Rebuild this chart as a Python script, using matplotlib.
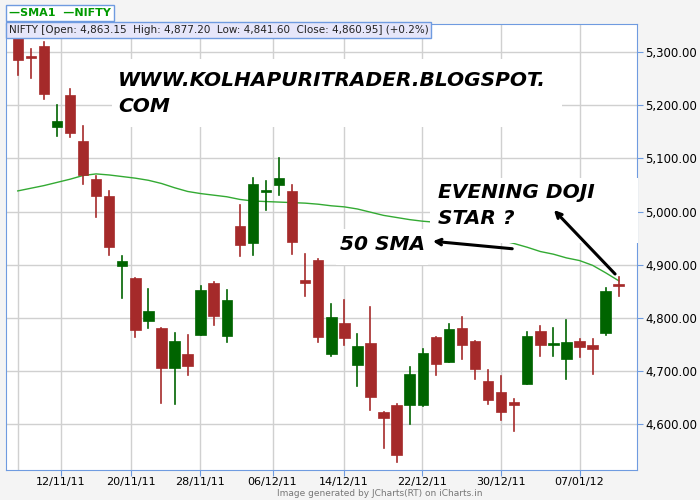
import matplotlib.pyplot as plt
from matplotlib.patches import Rectangle

# NIFTY daily candles, 47 sessions
opens = [5326, 5292, 5311, 5159, 5219, 5133, 5061, 5029, 4898, 4875,
         4794, 4781, 4706, 4732, 4768, 4866, 4766, 4973, 4941, 5037,
         5050, 5039, 4871, 4909, 4732, 4791, 4712, 4753, 4623, 4636,
         4636, 4636, 4764, 4717, 4781, 4757, 4682, 4661, 4642, 4676,
         4776, 4749, 4723, 4757, 4749, 4772, 4863.15]
highs = [5340, 5306, 5319, 5200, 5230, 5161, 5067, 5039, 4917, 4875,
         4855, 4781, 4772, 4768, 4860, 4868, 4853, 5012, 5063, 5058,
         5101, 5050, 4920, 4911, 4826, 4834, 4770, 4821, 4623, 4638,
         4708, 4742, 4764, 4789, 4802, 4757, 4702, 4691, 4648, 4774,
         4785, 4781, 4796, 4761, 4761, 4856, 4877.20]
lows = [5257, 5251, 5212, 5142, 5140, 5052, 4990, 4918, 4838, 4764,
        4781, 4640, 4638, 4693, 4768, 4787, 4755, 4917, 4918, 5003,
        5031, 4920, 4841, 4755, 4729, 4749, 4672, 4627, 4556, 4529,
        4601, 4635, 4693, 4717, 4723, 4685, 4638, 4608, 4588, 4676,
        4729, 4729, 4685, 4727, 4695, 4768, 4841.60]
closes = [5285, 5289, 5221, 5170, 5148, 5069, 5029, 4933, 4907, 4777,
          4813, 4706, 4757, 4710, 4853, 4804, 4834, 4937, 5052, 5041,
          5063, 4943, 4866, 4764, 4802, 4762, 4747, 4652, 4612, 4542,
          4695, 4734, 4714, 4779, 4749, 4704, 4646, 4623, 4636, 4766,
          4749, 4753, 4755, 4746, 4742, 4851, 4860.95]
sma = [5039, 5044, 5049, 5055, 5061, 5068, 5071, 5069, 5066, 5063,
       5059, 5053, 5045, 5038, 5034, 5031, 5028, 5023, 5020, 5019,
       5018, 5017, 5016, 5014, 5011, 5009, 5005, 4999, 4993, 4989,
       4985, 4982, 4980, 4978, 4975, 4968, 4958, 4946, 4940, 4933,
       4925, 4920, 4913, 4908, 4899, 4885, 4870]
tick_pos = [3.3, 8.66, 13.95, 19.5, 24.98, 30.96, 37.0, 43.0]
tick_labels = ['12/11/11', '20/11/11', '28/11/11', '06/12/11',
               '14/12/11', '22/12/11', '30/12/11', '07/01/12']
price_ticks = [4600, 4700, 4800, 4900, 5000, 5100, 5200, 5300]

RED = '#a52a2a'
GREEN = '#006400'
BLUE = '#6f9be0'

fig = plt.figure(figsize=(7, 5), dpi=100, facecolor='#f4f4f4')
ax = fig.add_axes([6/700, 30/500, 631/700, 446/500])
ax.set_facecolor('white')

for i in range(len(opens)):
    o, h, l, c = opens[i], highs[i], lows[i], closes[i]
    col = GREEN if c >= o else RED
    ax.plot([i, i], [l, h], color=col, lw=1.2, zorder=3)
    bot, top = min(o, c), max(o, c)
    ax.add_patch(Rectangle((i - 0.4, bot), 0.8, max(top - bot, 2.5),
                           facecolor=col, edgecolor=col, lw=0.5, zorder=4))

ax.plot(range(len(sma)), sma, color='#33aa33', lw=1, zorder=2)

ax.set_xlim(-0.9, 47.4)
ax.set_ylim(4514, 5353)
ax.yaxis.tick_right()
ax.set_yticks(price_ticks)
ax.set_yticklabels(['{:,.2f}'.format(v) for v in price_ticks], fontsize=8.5)
ax.set_xticks(tick_pos)
ax.set_xticklabels(tick_labels, fontsize=8)
ax.tick_params(axis='y', length=4, color=BLUE, pad=2)
ax.tick_params(axis='x', length=4, color=BLUE, pad=1)
ax.grid(True, color='#d0d0d0', lw=1)
ax.axvline(0, color='#d0d0d0', lw=1, zorder=0)
ax.set_axisbelow(True)
for s in ax.spines.values():
    s.set_color(BLUE)

# header / legend boxes
fig.text(9/700, 1 - 13/500, '—SMA1  —NIFTY', color='#009900', fontsize=8,
         fontweight='bold', va='center',
         bbox=dict(facecolor='white', edgecolor=BLUE, boxstyle='square,pad=0.25'))
fig.text(9/700, 1 - 30/500,
         'NIFTY [Open: 4,863.15  High: 4,877.20  Low: 4,841.60  Close: 4,860.95] (+0.2%)',
         fontsize=7.5, va='center', color='#222222',
         bbox=dict(facecolor='#e6e6fa', edgecolor=BLUE, boxstyle='square,pad=0.25'))
fig.text(380/700, 1 - 494/500, 'Image generated by JCharts(RT) on iCharts.in',
         fontsize=6.5, color='#777777', ha='center', va='center')

# annotations drawn on the chart
bold = dict(fontsize=14.5, fontweight='bold', fontstyle='italic', color='black',
            transform=fig.transFigure, zorder=10)
fig.patches.append(Rectangle((112/700, 1 - 127/500), 450/700, 68/500,
                             transform=fig.transFigure, facecolor='white', edgecolor='none', zorder=5))
fig.text(118/700, 1 - 80/500, 'WWW.KOLHAPURITRADER.BLOGSPOT.', va='center', **bold)
fig.text(118/700, 1 - 106/500, 'COM', va='center', **bold)
fig.patches.append(Rectangle((430/700, 1 - 243/500), 208/700, 65/500,
                             transform=fig.transFigure, facecolor='white', edgecolor='none', zorder=5))
fig.text(438/700, 1 - 192/500, 'EVENING DOJI', va='center', **bold)
fig.text(438/700, 1 - 219/500, 'STAR ?', va='center', **bold)
fig.patches.append(Rectangle((336/700, 1 - 265/500), 92/700, 36/500,
                             transform=fig.transFigure, facecolor='white', edgecolor='none', zorder=5))
fig.text(340/700, 1 - 244/500, '50 SMA', va='center', **bold)
for start, end in [((515, 249), (430, 241)), ((617, 276), (552, 208))]:
    arr = plt.Annotation('', xy=(end[0]/700, 1 - end[1]/500),
                         xytext=(start[0]/700, 1 - start[1]/500),
                         xycoords='figure fraction',
                         arrowprops=dict(arrowstyle='->', lw=2.2, color='black'))
    arr.set_zorder(12)
    fig.add_artist(arr)

fig.savefig('out.png', dpi=100, facecolor=fig.get_facecolor())
